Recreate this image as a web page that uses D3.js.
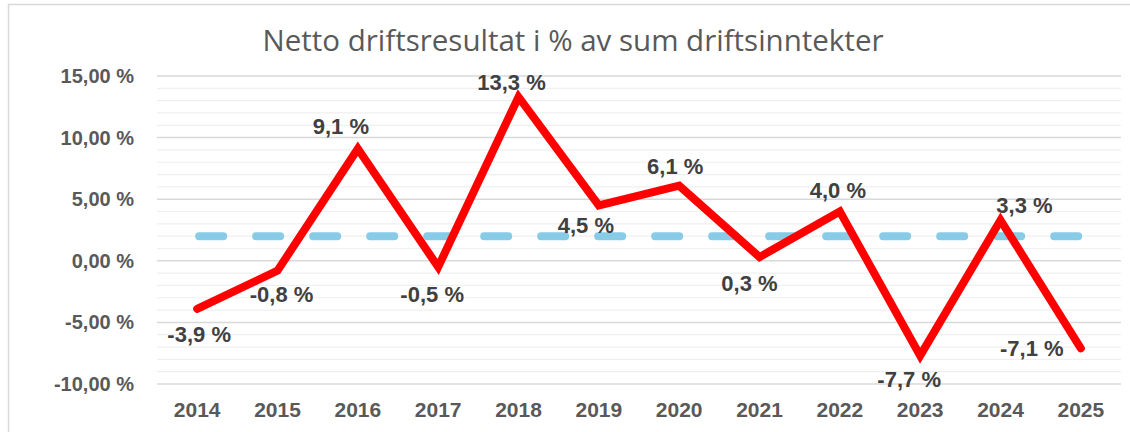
<!DOCTYPE html>
<html lang="no">
<head>
<meta charset="UTF-8">
<title>Netto driftsresultat</title>
<script src="https://d3js.org/d3.v7.min.js"></script>
<style>
  body { margin: 0; background: #fff; }
  svg { display: block; font-family: "Liberation Sans", Arial, sans-serif; }
</style>
</head>
<body>
<div id="chart"></div>
<script>
// data
var years = ["2014", "2015", "2016", "2017", "2018", "2019", "2020", "2021", "2022", "2023", "2024", "2025"];
var values = [-3.9, -0.8, 9.1, -0.5, 13.3, 4.5, 6.1, 0.3, 4.0, -7.7, 3.3, -7.1];
var target = 2.0;
var yTicks = [-10, -5, 0, 5, 10, 15];

// label offsets from each point (px), as placed in the original
var labelOffsets = [[2, 25], [4, 24], [-17, -22], [-6, 27], [-7, -15], [-13, 20],
                    [-4, -19], [-10, 26], [-2, -21], [-11, 24], [24, -15], [-49, 0]];

var W = 1130, H = 432;
var margin = { top: 76, right: 9, bottom: 48, left: 157 };
var width = W - margin.left - margin.right,
    height = H - margin.top - margin.bottom;

var svg = d3.select("#chart").append("svg")
    .attr("width", W)
    .attr("height", H);

// chart border (only top and left visible)
svg.append("path")
    .attr("d", "M8.5," + H + "V4.5H" + W)
    .attr("fill", "none")
    .attr("stroke", "#d9d9d9")
    .attr("stroke-width", 1.5);

svg.append("text")
    .attr("x", 573)
    .attr("y", 51)
    .attr("text-anchor", "middle")
    .style("font-family", "'Open Sans', sans-serif")
    .style("font-size", "29.5px")
    .style("fill", "#595959")
    .text("Netto driftsresultat i % av sum driftsinntekter");

var g = svg.append("g")
    .attr("transform", "translate(" + margin.left + "," + margin.top + ")");

var x = d3.scaleBand().domain(years).range([0, width]);
var y = d3.scaleLinear().domain([-10, 15]).range([height, 0]);

// gridlines every 1 %, darker at the labelled ticks
g.append("g")
    .selectAll("line")
    .data(d3.range(-10, 16, 1))
    .enter().append("line")
    .attr("x1", 0).attr("x2", width)
    .attr("y1", d => y(d)).attr("y2", d => y(d))
    .attr("stroke", d => d % 5 === 0 ? "#d9d9d9" : "#efefef")
    .attr("stroke-width", d => d % 5 === 0 ? 1.5 : 1.2);

var num = (d, p) => d3.format("." + p + "f")(d).replace(".", ",").replace("\u2212", "-") + " %";

// y axis
var yAxis = g.append("g")
    .call(d3.axisLeft(y).tickValues(yTicks).tickFormat(d => num(d, 2)).tickSize(0).tickPadding(23));
yAxis.select(".domain").remove();
yAxis.selectAll("text")
    .style("font-size", "20px")
    .style("font-weight", "bold")
    .style("fill", "#595959");

// x axis
var xAxis = g.append("g")
    .attr("transform", "translate(0," + height + ")")
    .call(d3.axisBottom(x).tickSize(0).tickPadding(18));
xAxis.select(".domain").remove();
xAxis.selectAll("text")
    .style("font-size", "21px")
    .style("font-weight", "bold")
    .style("fill", "#595959");

var cx = d => x(d) + x.bandwidth() / 2;

// target line
g.append("line")
    .attr("x1", cx(years[0]) + 2)
    .attr("x2", cx(years[years.length - 1]) + 4)
    .attr("y1", y(target)).attr("y2", y(target))
    .attr("stroke", "#87cbe6")
    .attr("stroke-width", 8)
    .attr("stroke-linecap", "round")
    .attr("stroke-dasharray", "24 33");

// main line
var line = d3.line()
    .x((d, i) => cx(years[i]))
    .y(d => y(d));

g.append("path")
    .datum(values)
    .attr("d", line)
    .attr("fill", "none")
    .attr("stroke", "#ff0000")
    .attr("stroke-width", 8)
    .attr("stroke-linejoin", "miter")
    .attr("stroke-linecap", "round");

// data labels
g.append("g")
    .selectAll("text")
    .data(values)
    .enter().append("text")
    .attr("x", (d, i) => cx(years[i]) + labelOffsets[i][0])
    .attr("y", (d, i) => y(d) + labelOffsets[i][1])
    .attr("dy", "0.35em")
    .attr("text-anchor", "middle")
    .style("font-size", "22px")
    .style("font-weight", "bold")
    .style("fill", "#404040")
    .text(d => num(d, 1));
</script>
</body>
</html>
